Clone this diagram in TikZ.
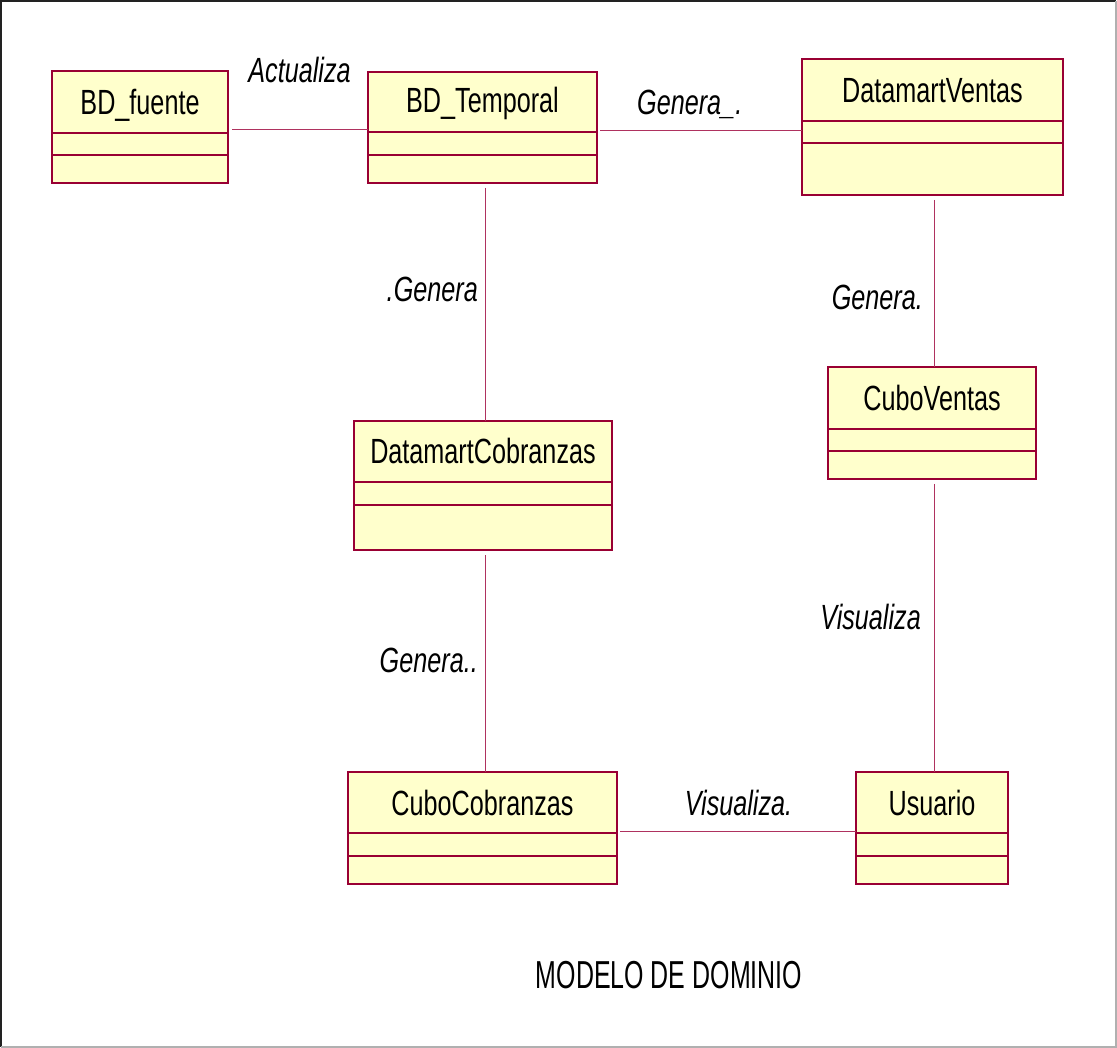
\documentclass[tikz,border=0pt]{standalone}
\usepackage{fontspec}
\newfontfamily\umlfont{Liberation Sans}[FakeStretch=0.72]
\newfontfamily\titlefont{Liberation Sans}[FakeStretch=0.64]
\usetikzlibrary{calc}

\definecolor{classfill}{RGB}{255,255,204}
\definecolor{classdraw}{RGB}{153,0,51}
\definecolor{assocline}{RGB}{175,50,95}
\definecolor{framedark}{RGB}{34,34,34}
\definecolor{framegray}{RGB}{176,176,176}

\tikzset{
  classbox/.style={draw=classdraw, fill=classfill, line width=1.4pt, rectangle, inner sep=0pt, outer sep=0pt},
  classline/.style={draw=classdraw, line width=1.2pt},
  classname/.style={font=\umlfont\fontsize{35}{40}\selectfont, text=black, inner sep=0pt},
  assoc/.style={draw=assocline, line width=1pt},
  rolelabel/.style={font=\umlfont\itshape\fontsize{35}{40}\selectfont, text=black, inner sep=0pt},
  titlelabel/.style={font=\titlefont\fontsize{39}{44}\selectfont, text=black, inner sep=0pt}
}

% #1 name, #2 centre x, #3 top, #4 width, #5 height,
% #6 first divider, #7 second divider, #8 baseline of the name (all from the top), #9 class name
\newcommand\umlclass[9]{%
  \node[classbox, minimum width=#4pt, minimum height=#5pt, anchor=north] (#1) at (#2,#3) {};
  \draw[classline] ([yshift=-#6pt]#1.north west) -- ([yshift=-#6pt]#1.north east);
  \draw[classline] ([yshift=-#7pt]#1.north west) -- ([yshift=-#7pt]#1.north east);
  \node[classname, anchor=base] (#1-name) at ([yshift=-#8pt]#1.north) {#9};
}

\begin{document}
\begin{tikzpicture}[x=1pt, y=-1pt]
  \useasboundingbox (0,0) rectangle (1117,1048);
  \fill[white] (0,0) rectangle (1117,1048);

  % frame
  \draw[framedark, line width=2pt] (1,1047) -- (1,1) -- (1116,1);
  \draw[framegray, line width=1.2pt] (1116,1) -- (1116,1047) -- (1,1047);

  % classes
  \umlclass{fuente}{140}{71}{176}{112}{62}{84}{44}{BD\_fuente}
  \umlclass{temporal}{482.5}{72}{229}{111}{60}{83}{41}{BD\_Temporal}
  \umlclass{dventas}{932.5}{59}{261}{136}{62}{84}{44}{DatamartVentas}
  \umlclass{dcobranzas}{483}{421}{258}{129}{61}{84}{43}{DatamartCobranzas}
  \umlclass{cventas}{932}{367}{208}{112}{62}{84}{44}{CuboVentas}
  \umlclass{ccobranzas}{482.5}{772}{269}{112}{61}{84}{43}{CuboCobranzas}
  \umlclass{usuario}{932}{772}{152}{112}{61}{84}{43}{Usuario}

  % associations
  \draw[assoc, shorten <=4pt] ([yshift=-3pt]fuente.east) -- ([yshift=-3pt]fuente.east -| temporal.west);
  \draw[assoc, shorten <=3pt] ([yshift=-3pt]temporal.east) -- ([yshift=-3pt]temporal.east -| dventas.west);
  \draw[assoc, shorten <=5pt] ([xshift=2pt]dcobranzas.north |- temporal.south) -- ([xshift=2pt]dcobranzas.north);
  \draw[assoc, shorten <=5pt] ([xshift=2pt]dcobranzas.south) -- ([xshift=2pt]dcobranzas.south |- ccobranzas.north);
  \draw[assoc, shorten <=5pt] ([xshift=2pt]cventas.north |- dventas.south) -- ([xshift=2pt]cventas.north);
  \draw[assoc, shorten <=5pt] ([xshift=2pt]cventas.south) -- ([xshift=2pt]cventas.south |- usuario.north);
  \draw[assoc, shorten <=3pt] ([yshift=-3pt]ccobranzas.east) -- ([yshift=-3pt]ccobranzas.east -| usuario.west);

  % role names
  \node[rolelabel, anchor=base] (l-act) at (299.5,83) {Actualiza};
  \node[rolelabel, anchor=base west] (l-gen1) at (637,115) {Genera\_.};
  \node[rolelabel, anchor=base east] (l-gen2) at (478,302) {.Genera};
  \node[rolelabel, anchor=base east] (l-gen3) at (923,310) {Genera.};
  \node[rolelabel, anchor=base east] (l-gen4) at (478,672) {Genera..};
  \node[rolelabel, anchor=base east] (l-vis1) at (921,629) {Visualiza};
  \node[rolelabel, anchor=base] (l-vis2) at (738.5,815) {Visualiza.};

  % caption
  \node[titlelabel, anchor=base] (title) at (669,988) {MODELO DE DOMINIO};
\end{tikzpicture}
\end{document}
